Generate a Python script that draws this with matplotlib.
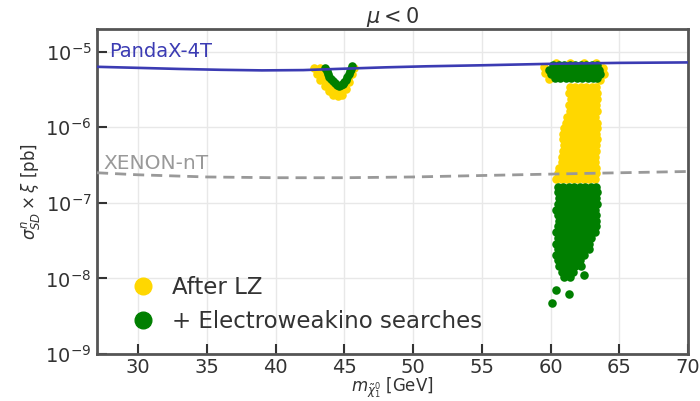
import matplotlib
matplotlib.use("Agg")
import matplotlib.pyplot as plt
from matplotlib.lines import Line2D

# exclusion limits
pandax_m = [27, 30, 33, 36, 39, 42, 45, 48, 51, 55, 60, 65, 70]
pandax_xs = [6.3e-6, 6.1e-6, 5.9e-6, 5.75e-6, 5.65e-6, 5.7e-6, 5.95e-6,
             6.2e-6, 6.4e-6, 6.6e-6, 6.9e-6, 7.1e-6, 7.2e-6]
xenon_m = [27, 30, 35, 40, 45, 50, 55, 60, 65, 70]
xenon_xs = [2.5e-7, 2.35e-7, 2.2e-7, 2.15e-7, 2.15e-7, 2.2e-7, 2.3e-7, 2.4e-7, 2.5e-7, 2.6e-7]

# scan points, given as (log10 sigma, [masses]) rows
yellow_rows = [
    # Z-funnel arc
    (-5.21, [42.8, 45.7]), (-5.29, [43.0, 45.55]), (-5.37, [43.25]),
    (-5.40, [45.35]), (-5.45, [43.55]), (-5.49, [45.1]), (-5.52, [43.9]),
    (-5.57, [44.2, 44.8]), (-5.59, [44.5]),
    (-5.22, [43.2]), (-5.30, [43.4]), (-5.38, [43.65]), (-5.45, [44.0, 45.0]),
    (-5.50, [44.35, 44.7]), (-5.36, [45.25]), (-5.28, [45.45]),
    # higgs funnel, rim of top blob
    (-5.15, [60.4, 61.4, 62.4, 63.3]), (-5.20, [59.5]), (-5.22, [63.8]),
    (-5.28, [59.6]), (-5.30, [63.85]), (-5.36, [59.9]), (-5.38, [63.6]),
    # higgs funnel column
    (-5.47, [61.4, 61.8, 62.2, 62.6, 63.0, 63.3]),
    (-5.55, [61.3, 61.7, 62.1, 62.5, 62.9, 63.4]),
    (-5.63, [61.5, 61.9, 62.3, 62.7, 63.1, 63.4]),
    (-5.71, [61.3, 61.7, 62.1, 62.5, 62.9, 63.3]),
    (-5.79, [61.4, 61.8, 62.2, 62.6, 63.0, 63.4]),
    (-5.86, [61.2, 61.6, 62.0, 62.4, 62.8, 63.2]),
    (-5.94, [61.1, 61.5, 61.9, 62.3, 62.7, 63.1, 63.4]),
    (-6.01, [61.0, 61.4, 61.8, 62.2, 62.6, 63.0, 63.4]),
    (-6.09, [60.9, 61.3, 61.7, 62.1, 62.5, 62.9, 63.3]),
    (-6.16, [60.9, 61.3, 61.7, 62.1, 62.5, 62.9, 63.4]),
    (-6.24, [61.0, 61.4, 61.8, 62.2, 62.6, 63.0, 63.3]),
    (-6.31, [60.9, 61.3, 61.7, 62.1, 62.5, 62.9, 63.3]),
    (-6.39, [60.8, 61.2, 61.6, 62.0, 62.4, 62.8, 63.2]),
    (-6.46, [60.8, 61.2, 61.6, 62.0, 62.4, 62.8, 63.2]),
    (-6.54, [60.6, 61.0, 61.4, 61.8, 62.2, 62.6, 63.0, 63.3]),
    (-6.61, [60.5, 60.9, 61.3, 61.7, 62.1, 62.5, 62.9, 63.3]),
    (-6.69, [60.4, 60.8, 61.2, 61.6, 62.0, 62.4, 62.8, 63.2]),
]

green_rows = [
    # Z-funnel arc
    (-5.21, [43.6]), (-5.25, [43.7]), (-5.29, [43.8]), (-5.33, [43.9]),
    (-5.36, [44.0]), (-5.39, [44.15]), (-5.42, [44.3]), (-5.44, [44.45]),
    (-5.45, [44.6]), (-5.44, [44.75]), (-5.43, [44.9]), (-5.40, [45.0]),
    (-5.37, [45.1]), (-5.34, [45.2]), (-5.30, [45.3]), (-5.26, [45.4]),
    (-5.23, [45.45]), (-5.19, [45.55]),
    # higgs funnel, top blob
    (-5.18, [60.2, 60.6, 61.0, 61.4, 61.8, 62.2, 62.6, 63.0, 63.4]),
    (-5.24, [59.9, 60.3, 60.7, 61.1, 61.5, 61.9, 62.3, 62.7, 63.1, 63.5]),
    (-5.30, [60.0, 60.4, 60.8, 61.2, 61.6, 62.0, 62.4, 62.8, 63.2, 63.6]),
    (-5.35, [60.3, 60.7, 61.1, 61.5, 61.9, 62.3, 62.7, 63.1, 63.4]),
    # higgs funnel, lower column
    (-6.79, [60.5, 60.9, 61.3, 61.7, 62.1, 62.5, 62.9, 63.3]),
    (-6.86, [60.5, 60.9, 61.3, 61.7, 62.1, 62.5, 62.9, 63.4]),
    (-6.94, [60.6, 61.0, 61.4, 61.8, 62.2, 62.6, 63.0, 63.3]),
    (-7.01, [60.5, 60.9, 61.3, 61.7, 62.1, 62.5, 62.9, 63.4]),
    (-7.09, [60.4, 60.8, 61.2, 61.6, 62.0, 62.4, 62.8, 63.2]),
    (-7.16, [60.5, 60.9, 61.3, 61.7, 62.1, 62.5, 62.9, 63.3]),
    (-7.24, [60.6, 61.0, 61.4, 61.8, 62.2, 62.6, 63.0, 63.3]),
    (-7.31, [60.5, 60.9, 61.3, 61.7, 62.1, 62.5, 62.9, 63.3]),
    (-7.39, [60.4, 60.8, 61.2, 61.6, 62.0, 62.4, 62.8, 63.2]),
    (-7.46, [60.5, 60.9, 61.3, 61.7, 62.1, 62.5, 62.9]),
    (-7.54, [60.4, 60.8, 61.2, 61.6, 62.0, 62.4, 62.8]),
    (-7.61, [60.5, 60.9, 61.3, 61.7, 62.1, 62.5, 62.8]),
    (-7.69, [60.4, 60.8, 61.2, 61.6, 62.0, 62.4]),
    (-7.76, [60.5, 60.9, 61.3, 61.7, 62.1]),
    (-7.84, [60.6, 61.0, 61.4, 61.8, 62.2]),
    (-7.91, [60.8, 61.2, 61.6]),
    (-7.95, [62.4]),
    (-7.98, [61.0, 61.4]),
    (-8.15, [60.4]), (-8.20, [61.3]), (-8.32, [60.1]),
]


def unpack(rows):
    xs, ys = [], []
    for lg, masses in rows:
        for m in masses:
            xs.append(m)
            ys.append(10 ** lg)
    return xs, ys


yx, yy = unpack(yellow_rows)
gx, gy = unpack(green_rows)

txt = "#333333"
plt.rcParams["text.color"] = txt
plt.rcParams["axes.labelcolor"] = txt
plt.rcParams["xtick.color"] = txt
plt.rcParams["ytick.color"] = txt

fig = plt.figure(figsize=(7.0, 4.01), dpi=100)
ax = fig.add_axes([0.1386, 0.117, 0.8444, 0.811])

ax.scatter(yx, yy, s=38, color="#FFD700", linewidths=0, zorder=3)
ax.scatter(gx, gy, s=38, color="#007F00", linewidths=0, zorder=4)

ax.plot(pandax_m, pandax_xs, color="#3b3bb3", lw=1.9, zorder=5)
ax.plot(xenon_m, xenon_xs, color="#999999", lw=2.0, ls=(0, (4, 2.5)), zorder=5)

ax.text(27.9, 1.0e-5, "PandaX-4T", color="#3b3bb3", fontsize=14, va="center")
ax.text(27.5, 3.3e-7, "XENON-nT", color="#999999", fontsize=14.5, va="center")

ax.set_yscale("log")
ax.set_xlim(27, 70)
ax.set_ylim(1e-9, 2e-5)
ax.set_xticks([30, 35, 40, 45, 50, 55, 60, 65, 70])
ax.set_yticks([1e-9, 1e-8, 1e-7, 1e-6, 1e-5])
ax.minorticks_off()
ax.tick_params(direction="in", length=7, width=1.5, labelsize=14, pad=4)
ax.tick_params(axis="x", pad=3)
ax.grid(True, color="#e8e8e8", lw=1.0)
ax.set_axisbelow(True)
for sp in ax.spines.values():
    sp.set_color("#555555")
    sp.set_linewidth(2.0)

ax.set_xlabel(r"$m_{\tilde{\chi}^0_1}$ [GeV]", fontsize=12, labelpad=-1)
ax.set_ylabel(r"$\sigma^{n}_{SD}\times\xi$ [pb]", fontsize=12, labelpad=2)
ax.set_title(r"$\mu < 0$", fontsize=15, pad=4)

handles = [
    Line2D([], [], ls="", marker="o", ms=12, color="#FFD700"),
    Line2D([], [], ls="", marker="o", ms=12, color="#007F00"),
]
ax.legend(handles, ["After LZ", "+ Electroweakino searches"], loc="lower left",
          bbox_to_anchor=(0.02, 0.0), frameon=False, fontsize=16.5,
          handletextpad=0.65, labelspacing=0.5, handlelength=1.2)

fig.savefig("out.png", dpi=100)
